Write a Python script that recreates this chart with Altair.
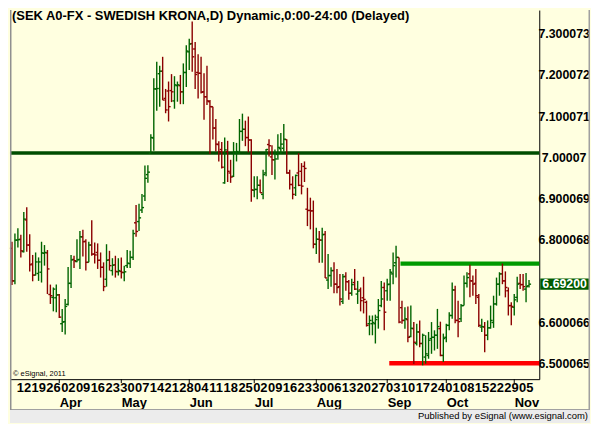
import altair as alt
import pandas as pd

# ---- OHLC bars (daily, SEK) ----
opens = [6.779,6.700,6.799,6.801,6.771,6.848,6.787,6.741,6.714,6.718,6.721,6.767,6.768,6.667,6.660,6.659,6.666,6.596,6.601,6.643,
         6.694,6.752,6.747,6.752,6.807,6.796,6.745,6.787,6.765,6.769,6.750,6.733,6.704,6.751,6.725,6.739,6.722,6.723,6.720,6.737,
         6.742,6.757,6.841,6.844,6.872,6.906,6.958,7.010,7.047,7.166,7.203,7.209,7.143,7.161,7.162,7.137,7.174,7.174,7.159,7.206,
         7.256,7.276,7.263,7.206,7.204,7.159,7.147,7.135,7.123,7.071,7.031,7.019,6.938,7.014,6.962,6.954,7.010,7.010,7.063,7.068,
         7.048,7.042,6.920,6.922,6.932,6.910,6.962,7.031,7.001,6.994,7.007,7.021,7.022,7.043,6.962,6.934,6.926,6.962,6.966,6.978,
         6.874,6.871,6.870,6.789,6.801,6.799,6.813,6.702,6.713,6.725,6.692,6.686,6.650,6.711,6.698,6.670,6.696,6.668,6.678,6.659,
         6.648,6.596,6.596,6.596,6.612,6.640,6.684,6.676,6.692,6.717,6.744,6.757,6.635,6.604,6.606,6.565,6.584,6.548,6.576,6.548,
         6.515,6.519,6.560,6.563,6.568,6.584,6.519,6.563,6.592,6.616,6.678,6.604,6.608,6.640,6.694,6.717,6.700,6.694,6.660,6.588,
         6.588,6.568,6.586,6.599,6.644,6.692,6.717,6.700,6.676,6.640,6.636,6.660,6.694,6.691,6.680,6.688]
highs = [6.795,6.815,6.828,6.812,6.867,6.879,6.813,6.763,6.769,6.757,6.795,6.787,6.775,6.691,6.684,6.691,6.668,6.632,6.656,6.734,
         6.763,6.761,6.801,6.821,6.824,6.801,6.795,6.847,6.793,6.791,6.769,6.745,6.789,6.773,6.755,6.761,6.755,6.757,6.737,6.775,
         6.773,6.824,6.884,6.887,6.911,6.980,6.981,7.056,7.192,7.232,7.222,7.244,7.166,7.184,7.202,7.197,7.184,7.200,7.228,7.272,
         7.288,7.330,7.280,7.250,7.244,7.204,7.222,7.139,7.123,7.093,7.039,7.037,7.048,7.040,6.994,7.037,7.035,7.093,7.106,7.089,
         7.099,7.044,6.954,6.954,6.946,6.970,7.020,7.044,7.029,7.019,7.056,7.059,7.081,7.044,6.970,6.954,6.958,7.010,6.986,6.990,
         6.926,6.902,6.895,6.829,6.821,6.829,6.821,6.765,6.733,6.745,6.729,6.717,6.717,6.721,6.702,6.705,6.729,6.700,6.684,6.710,
         6.652,6.616,6.616,6.618,6.656,6.700,6.696,6.705,6.729,6.769,6.785,6.757,6.652,6.636,6.638,6.640,6.600,6.596,6.604,6.572,
         6.568,6.576,6.600,6.580,6.632,6.601,6.572,6.596,6.624,6.696,6.688,6.652,6.644,6.713,6.721,6.739,6.713,6.729,6.668,6.608,
         6.600,6.604,6.640,6.664,6.708,6.721,6.742,6.723,6.684,6.648,6.668,6.710,6.717,6.717,6.719,6.702]
lows = [6.690,6.692,6.781,6.757,6.769,6.771,6.723,6.699,6.713,6.700,6.696,6.737,6.668,6.644,6.626,6.624,6.610,6.576,6.570,6.640,
        6.683,6.731,6.745,6.729,6.759,6.725,6.745,6.761,6.742,6.729,6.708,6.675,6.686,6.725,6.713,6.708,6.713,6.706,6.699,6.731,
        6.731,6.751,6.807,6.821,6.865,6.894,6.938,7.010,7.016,7.113,7.123,7.139,7.107,7.087,7.134,7.118,7.135,7.129,7.129,7.171,
        7.212,7.208,7.166,7.143,7.155,7.091,7.127,7.008,7.043,7.014,6.990,6.973,6.936,6.940,6.938,6.952,6.990,7.008,7.040,7.027,
        7.012,6.892,6.903,6.898,6.914,6.898,6.954,7.002,6.957,6.946,6.994,7.008,7.014,6.960,6.922,6.898,6.906,6.930,6.910,6.940,
        6.833,6.825,6.779,6.765,6.744,6.744,6.707,6.680,6.686,6.670,6.670,6.640,6.644,6.676,6.654,6.664,6.678,6.644,6.626,6.621,
        6.589,6.568,6.568,6.548,6.584,6.636,6.580,6.652,6.652,6.692,6.708,6.597,6.596,6.584,6.551,6.563,6.498,6.543,6.539,6.495,
        6.499,6.511,6.523,6.531,6.535,6.517,6.503,6.551,6.580,6.608,6.597,6.563,6.600,6.640,6.684,6.660,6.664,6.644,6.588,6.576,
        6.527,6.556,6.584,6.586,6.640,6.664,6.692,6.660,6.616,6.592,6.616,6.648,6.680,6.676,6.648,6.684]
closes = [6.700,6.799,6.800,6.773,6.850,6.787,6.739,6.714,6.746,6.746,6.768,6.769,6.729,6.664,6.680,6.666,6.612,6.600,6.638,6.694,
          6.751,6.749,6.751,6.807,6.795,6.745,6.787,6.765,6.763,6.750,6.733,6.686,6.750,6.737,6.738,6.723,6.725,6.721,6.722,6.743,
          6.757,6.815,6.820,6.853,6.878,6.949,6.964,7.048,7.166,7.167,7.209,7.139,7.115,7.123,7.159,7.176,7.176,7.159,7.206,7.258,
          7.275,7.244,7.201,7.204,7.158,7.147,7.137,7.123,7.071,7.032,7.014,6.976,7.018,6.966,6.952,7.013,7.014,7.063,7.068,7.048,
          7.042,6.921,6.922,6.932,6.914,6.958,7.019,7.028,6.994,6.996,7.024,7.032,7.044,6.962,6.934,6.910,6.956,6.932,6.930,6.973,
          6.871,6.870,6.789,6.801,6.799,6.812,6.707,6.713,6.725,6.692,6.684,6.656,6.710,6.698,6.670,6.691,6.680,6.675,6.652,6.655,
          6.592,6.604,6.599,6.606,6.628,6.656,6.624,6.691,6.721,6.737,6.757,6.600,6.604,6.608,6.563,6.585,6.551,6.576,6.548,6.568,
          6.523,6.556,6.563,6.568,6.589,6.519,6.560,6.592,6.616,6.678,6.604,6.601,6.640,6.694,6.708,6.700,6.692,6.664,6.592,6.589,
          6.568,6.586,6.604,6.644,6.692,6.717,6.700,6.684,6.640,6.638,6.654,6.692,6.691,6.686,6.686,6.692]

# ---- axis labels ----
week_labels = ['12','19','26','02','09','16','23','30','07','14','21','28','04','11','18','25','02','09','16','23',
               '30','06','13','20','27','03','10','17','24','01','08','15','22','29','05']
week_pos = [3.9 + 5 * k for k in range(len(week_labels))]
month_labels = ['Apr', 'May', 'Jun', 'Jul', 'Aug', 'Sep', 'Oct', 'Nov']
month_pos = [16, 37, 60, 82, 103, 127, 147, 170]
price_ticks = [6.500065, 6.600066, 6.800068, 6.900069, 7.00007, 7.100071, 7.200072, 7.300073]

# ---- reference lines ----
resistance_long = 7.0105
upper_level = 6.742
upper_start = 131.5
lower_level = 6.5
lower_start = 127.7
last_price = 6.692
last_label = '6.69200'

title_text = '(SEK A0-FX - SWEDISH KRONA,D) Dynamic,0:00-24:00 (Delayed)'
copyright_text = '\u00a9 eSignal, 2011'
publisher_text = 'Published by eSignal (www.esignal.com)'

W, H = 532, 371
TOTAL_W, TOTAL_H = 583, 415
FONT = 'Liberation Sans'
BG = '#ffffe0'
UP = '#006400'
DOWN = '#8b0000'

df = pd.DataFrame({'i': list(range(len(opens))), 'o': opens, 'h': highs, 'l': lows, 'c': closes})

xscale = alt.Scale(domain=[-0.673, 178.47], nice=False, zero=False)
yscale = alt.Scale(domain=[6.4614, 7.3575], nice=False, zero=False)

week_expr = '[' + ','.join("'%s'" % s for s in week_labels) + ']'
xaxis = alt.Axis(values=week_pos, labelExpr=week_expr + '[round((datum.value - 3.9) / 5)]',
                 title=None, grid=False, ticks=False, tickSize=0, domain=True, domainColor='black',
                 domainWidth=1, labelFont=FONT, labelFontSize=13, labelFontWeight='bold',
                 labelColor='black', labelPadding=2, labelOverlap=False, labelFlush=False,
                 labelBaseline='top')
yaxis = alt.Axis(orient='right', values=price_ticks, format='.6~f', title=None, grid=False,
                 ticks=False, tickSize=0, domain=True, domainColor='black', domainWidth=1,
                 labelFont=FONT, labelFontSize=12.4, labelFontWeight='bold', labelColor='black',
                 labelAlign='center', labelPadding=24.5, labelBaseline='middle', labelOverlap=False,
                 labelFlush=False)

def X(f):
    return alt.X(f, type='quantitative', scale=xscale, axis=xaxis)

def Y(f):
    return alt.Y(f, type='quantitative', scale=yscale, axis=yaxis)

color = alt.Color('dir:N', scale=alt.Scale(domain=['up', 'down'], range=[UP, DOWN]), legend=None)

base = alt.Chart(df).transform_calculate(
    dir="datum.c >= datum.o ? 'up' : 'down'",
    xo='datum.i - 0.7',
    xc='datum.i + 0.7',
)

SW = 1.4
hl = base.mark_rule(strokeWidth=SW).encode(x=X('i'), y=Y('l'), y2='h', color=color)
ot = base.mark_rule(strokeWidth=SW).encode(x=X('xo'), x2='i', y=Y('o'), color=color)
ct = base.mark_rule(strokeWidth=SW).encode(x=X('i'), x2='xc', y=Y('c'), color=color)

long_line = alt.Chart(pd.DataFrame({'p': [resistance_long]})).mark_rule(
    color='#004d00', strokeWidth=3.5).encode(y=Y('p'))
upper_line = alt.Chart(pd.DataFrame({'x': [upper_start], 'p': [upper_level]})).mark_rule(
    color='#009a00', strokeWidth=4.3).encode(x=X('x'), x2=alt.value(W), y=Y('p'))
lower_line = alt.Chart(pd.DataFrame({'x': [lower_start], 'p': [lower_level]})).mark_rule(
    color='#ff0000', strokeWidth=4.3).encode(x=X('x'), x2=alt.value(W), y=Y('p'))

lp = pd.DataFrame({'p': [last_price], 't': [last_label]})
box = alt.Chart(lp).transform_calculate(p1='datum.p + 0.0135', p2='datum.p - 0.0135').mark_rect(
    color='#005a00').encode(x=alt.value(W + 1), x2=alt.value(W + 50), y=Y('p1'), y2='p2')
box_txt = alt.Chart(lp).mark_text(color='white', font=FONT, fontSize=12.4, fontWeight='bold',
                                  align='center', baseline='middle').encode(
    x=alt.value(W + 25.5), y=Y('p'), text='t:N')

title = alt.Chart(pd.DataFrame({'t': [title_text]})).mark_text(
    font=FONT, fontSize=13, fontWeight='bold', color='black', align='left', baseline='top').encode(
    x=alt.value(2), y=alt.value(0), text='t:N')
copy = alt.Chart(pd.DataFrame({'t': [copyright_text]})).mark_text(
    font=FONT, fontSize=7.5, color='black', align='left', baseline='alphabetic').encode(
    x=alt.value(3), y=alt.value(H - 3), text='t:N')

frame = pd.DataFrame({'t': [publisher_text]})
band = alt.Chart(frame).mark_rect(color='#ececec').encode(
    x=alt.value(0), x2=alt.value(TOTAL_W), y=alt.value(TOTAL_H - 13), y2=alt.value(TOTAL_H))
band_line = alt.Chart(frame).mark_rule(color='#a0a0a0', strokeWidth=1).encode(
    x=alt.value(0), x2=alt.value(TOTAL_W), y=alt.value(TOTAL_H - 13.5))
left_edge = alt.Chart(frame).mark_rule(color='#909090', strokeWidth=1.5).encode(
    x=alt.value(0.75), y=alt.value(0), y2=alt.value(TOTAL_H - 13))
right_edge = alt.Chart(frame).mark_rule(color='#a0a0a0', strokeWidth=1.5).encode(
    x=alt.value(TOTAL_W - 0.75), y=alt.value(0), y2=alt.value(TOTAL_H - 13))
pub = alt.Chart(frame).mark_text(
    font=FONT, fontSize=9.5, color='black', align='right', baseline='middle').encode(
    x=alt.value(TOTAL_W - 2), y=alt.value(TOTAL_H - 6.5), text='t:N')

main = alt.layer(long_line, upper_line, lower_line, hl, ot, ct, box, box_txt, title, copy,
                 band, band_line, left_edge, right_edge, pub)

month_expr = '[' + ','.join("'%s'" % s for s in month_labels) + ']'
month_idx_expr = '[' + ','.join(str(v) for v in month_pos) + ']'
maxis = alt.Axis(orient='bottom', values=month_pos,
                 labelExpr=month_expr + '[indexof(' + month_idx_expr + ', datum.value)]',
                 title=None, grid=False, ticks=False, tickSize=0, domain=False,
                 labelFont=FONT, labelFontSize=13, labelFontWeight='bold', labelColor='black',
                 labelAlign='left', labelBaseline='top', labelPadding=17.5,
                 labelOverlap=False, labelFlush=False)
months = alt.Chart(pd.DataFrame({'m': month_pos, 'n': month_labels})).mark_rule(
    color='black', strokeWidth=1).encode(
    x=alt.X('m:Q', scale=xscale, axis=maxis), y=alt.value(H), y2=alt.value(H + 4))

chart = alt.layer(main, months).resolve_scale(x='independent').properties(
    width=W, height=H, padding=0, background=BG
).configure_view(stroke=None)

chart.save('out.html', embed_options={'renderer': 'svg', 'actions': False})
